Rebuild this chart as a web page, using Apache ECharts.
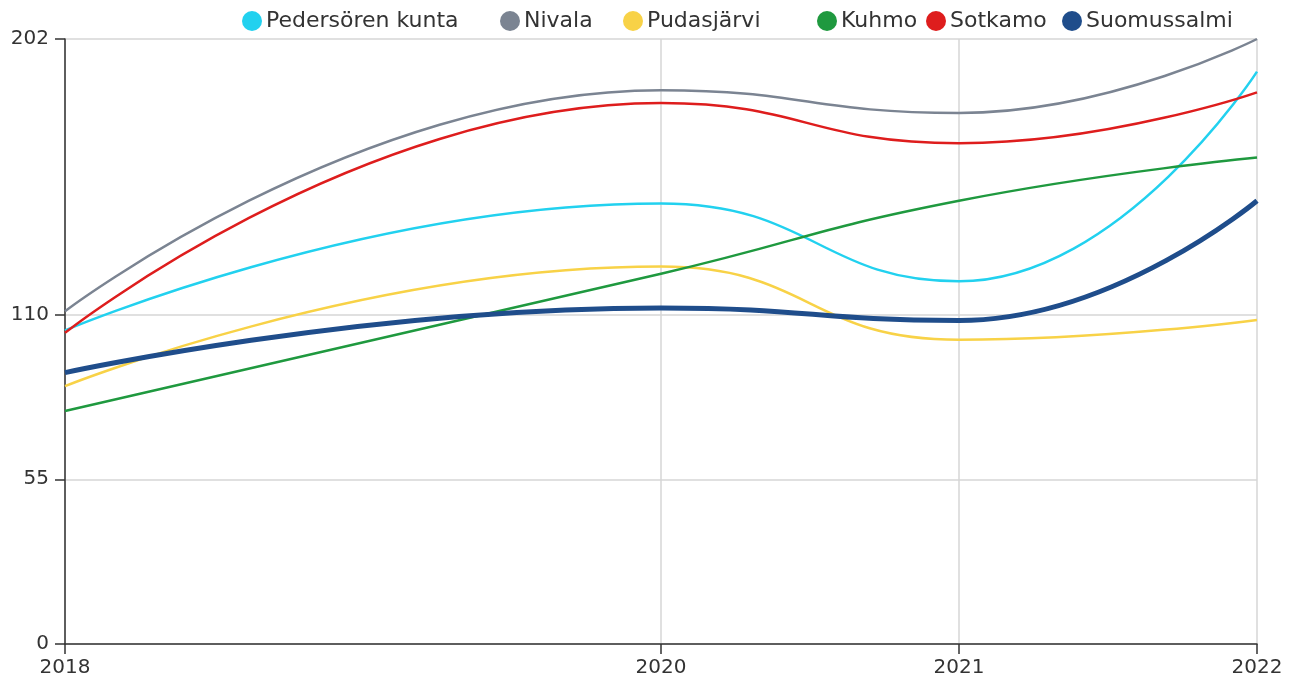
<!DOCTYPE html>
<html>
<head>
<meta charset="utf-8">
<script src="https://cdn.jsdelivr.net/npm/echarts@6/dist/echarts.min.js"></script>
<style>
  html, body { margin: 0; padding: 0; background: #fff; }
  #chart { width: 1298px; height: 679px; }
</style>
</head>
<body>
<div id="chart"></div>
<script>
// vuodet (x-akseli)
const years = [2018, 2020, 2021, 2022]
const xTicks = [2018, 2020, 2021, 2022]
const yTicks = [0, 55, 110, 202]

const names = ['Pedersören kunta', 'Nivala', 'Pudasjärvi', 'Kuhmo', 'Sotkamo', 'Suomussalmi']
const pedersoren = [104.7, 147.1, 121.1, 191.1]
const nivala = [111.1, 184.9, 177.3, 202]
const pudasjarvi = [86.1, 126, 101.6, 108.2]
const kuhmo = [77.8, 123.6, 148, 162.4]
const sotkamo = [103.9, 180.6, 167.2, 184.2]
const suomussalmi = [90.6, 112.2, 108, 148]

const colors = ['#22d1ef', '#7b8492', '#f8d247', '#1f993f', '#de1d1d', '#1f4d8b']
const widths = [2.5, 2.5, 2.5, 2.5, 2.5, 5]
const legendLeft = [242, 500, 623, 817, 926, 1062]

const allValues = [pedersoren, nivala, pudasjarvi, kuhmo, sotkamo, suomussalmi]
const font = 'DejaVu Sans'

const chartDom = document.getElementById('chart')
const myChart = echarts.init(chartDom)
const option = {
  animation: false,
  textStyle: { fontFamily: font },
  legend: names.map((n, i) => ({
    data: [n],
    left: legendLeft[i],
    top: 10,
    icon: 'circle',
    itemWidth: 20,
    itemHeight: 20,
    itemGap: 0,
    padding: 0,
    textStyle: { fontSize: 22, color: '#333', fontFamily: font, padding: [0, 0, 0, -1] }
  })),
  grid: { left: 65, right: 41, top: 39, bottom: 35, containLabel: false },
  xAxis: {
    type: 'value',
    min: 2018,
    max: 2022,
    axisLine: { lineStyle: { color: '#333', width: 1.5 } },
    axisTick: { show: true, length: 10, customValues: xTicks, lineStyle: { color: '#333', width: 1.5 } },
    axisLabel: { customValues: xTicks, fontSize: 20, color: '#333', margin: 14, formatter: v => String(v) },
    splitLine: { show: true, lineStyle: { color: '#d6d6d6', width: 1.5 } }
  },
  yAxis: {
    type: 'value',
    min: 0,
    max: 202,
    axisLine: { show: true, lineStyle: { color: '#333', width: 1.5 } },
    axisTick: { show: true, length: 10, customValues: yTicks, lineStyle: { color: '#333', width: 1.5 } },
    axisLabel: { customValues: yTicks, fontSize: 20, color: '#333', margin: 16 },
    splitLine: { show: true, lineStyle: { color: '#d6d6d6', width: 1.5 } }
  },
  series: names.map((n, i) => ({
    name: n,
    type: 'line',
    smooth: true,
    symbol: 'none',
    color: colors[i],
    lineStyle: { width: widths[i], color: colors[i] },
    data: years.map((y, j) => [y, allValues[i][j]])
  }))
}
option && myChart.setOption(option)
</script>
</body>
</html>
